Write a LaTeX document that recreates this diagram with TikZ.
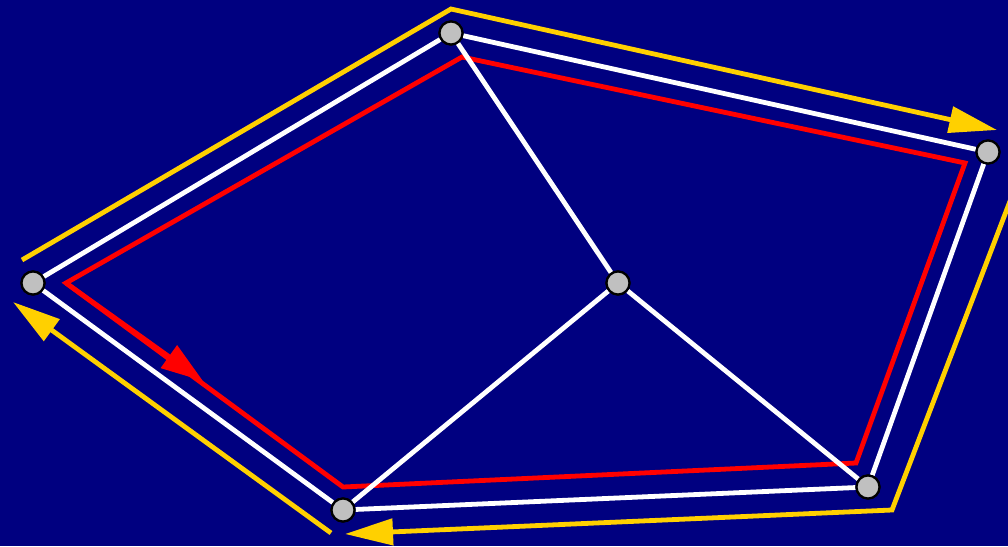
\documentclass[tikz,border=0pt]{standalone}
\usetikzlibrary{arrows.meta}
\definecolor{bg}{HTML}{000080}
\definecolor{yel}{HTML}{FFD000}
\definecolor{nodegray}{HTML}{C0C0C0}
\begin{document}
\begin{tikzpicture}[x=1pt,y=-1pt,
  vert/.style={circle,fill=nodegray,draw=black,line width=2.2pt,minimum size=23pt,inner sep=0pt},
  edge/.style={white,line width=4.8pt},
  ypath/.style={yel,line width=4.8pt,line join=miter},
  rpath/.style={red,line width=4.8pt,line join=miter},
  yarrow/.style={-{Triangle[length=48pt,width=26pt]}},
  rarrow/.style={-{Triangle[length=42pt,width=27pt]}}]
\fill[bg] (0,0) rectangle (1008,546);
\useasboundingbox (0,0) rectangle (1008,546);
\clip (0,0) rectangle (1008,546);
% coordinates for guide paths
\coordinate (y1s) at (22,260);
\coordinate (y1a) at (451,9);
\coordinate (y1e) at (997,130);
\coordinate (y2s) at (1020,175);
\coordinate (y2a) at (892,510);
\coordinate (y2e) at (345,534);
\coordinate (y3s) at (331,533);
\coordinate (y3e) at (13,302);
\coordinate (r1) at (66,283);
\coordinate (r2) at (462,57);
\coordinate (r3) at (965,163);
\coordinate (r4) at (856,463);
\coordinate (r5) at (343,487);
\coordinate (rtip) at (203,381);
% yellow
\draw[ypath,yarrow] (y1s) -- (y1a) -- (y1e);
\draw[ypath,yarrow] (y2s) -- (y2a) -- (y2e);
\draw[ypath,yarrow] (y3s) -- (y3e);
% red
\draw[rpath] (r1) -- (r2) -- (r3) -- (r4) -- (r5) -- cycle;
\draw[rpath,rarrow] (r1) -- (rtip);
% nodes
\node[vert] (a) at (451,33) {};
\node[vert] (b) at (988,152) {};
\node[vert] (c) at (33,283) {};
\node[vert] (d) at (618,283) {};
\node[vert] (e) at (343,510) {};
\node[vert] (f) at (868,487) {};
% white edges
\draw[edge] (a) -- (b);
\draw[edge] (b) -- (f);
\draw[edge] (f) -- (e);
\draw[edge] (e) -- (c);
\draw[edge] (c) -- (a);
\draw[edge] (a) -- (d);
\draw[edge] (d) -- (e);
\draw[edge] (d) -- (f);
% redraw nodes on top
\node[vert] at (a) {};
\node[vert] at (b) {};
\node[vert] at (c) {};
\node[vert] at (d) {};
\node[vert] at (e) {};
\node[vert] at (f) {};
\end{tikzpicture}
\end{document}
